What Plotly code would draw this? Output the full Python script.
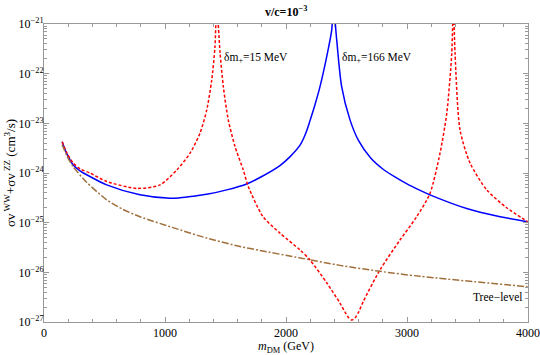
import plotly.graph_objects as go

# ---- data ----
m_blue = [150, 190, 242, 300, 380, 518, 793, 1041, 1124, 1231, 1345, 1510, 1675, 1800, 1950, 2030, 2116, 2160,
          2198, 2240, 2281, 2336, 2378, 2391,
          2419, 2460, 2529, 2600, 2700, 2800, 2900, 3000, 3100, 3200, 3500, 3770, 3997]
log_blue = [-23.37, -23.62, -23.84, -23.96, -24.07, -24.24, -24.44, -24.51, -24.50, -24.47, -24.43, -24.34, -24.22,
            -24.07, -23.85, -23.68, -23.44, -23.22,
            -22.95, -22.62, -22.26, -21.66, -21.12, -20.6,
            -21.32, -22.26, -22.93, -23.35, -23.70, -23.92, -24.08, -24.22, -24.34, -24.45, -24.72, -24.88, -24.98]

m_red = [150, 190, 242, 300, 380, 518, 766, 959, 1097, 1207, 1289, 1345, 1386, 1413, 1427,
         1455, 1482, 1523, 1579, 1647, 1688, 1810, 1950, 2116, 2198, 2336, 2446, 2490, 2520, 2545, 2570, 2600, 2640,
         2777, 2942,
         3080, 3190, 3273, 3329, 3370, 3383,
         3397, 3438, 3521, 3659, 3824, 3997]
log_red = [-23.37, -23.60, -23.80, -23.92, -24.00, -24.17, -24.31, -24.24, -23.94, -23.60, -23.20, -22.73, -22.13,
           -21.46, -20.6,
           -21.58, -22.26, -22.93, -23.47, -23.94, -24.27, -24.88, -25.21, -25.55, -25.75, -26.21, -26.62, -26.81,
           -26.92, -26.96, -26.92, -26.80, -26.58,
           -25.95, -25.35,
           -24.88, -24.41, -23.60, -22.79, -21.59, -20.6,
           -21.59, -23.13, -23.80, -24.34, -24.70, -24.98]

m_tree = [150, 190, 240, 350, 518, 650, 793, 1066, 1345, 1620, 1785, 2116, 2446, 2777, 3107, 3997]
log_tree = [-23.43, -23.66, -23.87, -24.18, -24.54, -24.73, -24.88, -25.10, -25.31, -25.48, -25.56, -25.71, -25.86,
            -25.98, -26.08, -26.29]

y_decades = [-27, -26, -25, -24, -23, -22, -21]
x_ticks = [0, 1000, 2000, 3000, 4000]

FONT = "Liberation Serif"
GRAY = "#999999"

fig = go.Figure()
fig.add_trace(go.Scatter(x=m_blue, y=[10 ** v for v in log_blue], mode="lines",
                         line=dict(color="#0000FF", width=1.5, shape="spline", smoothing=0.8), showlegend=False))
fig.add_trace(go.Scatter(x=m_red, y=[10 ** v for v in log_red], mode="lines",
                         line=dict(color="#FF0000", width=1.5, dash="3px,2px", shape="spline", smoothing=0.7),
                         showlegend=False))
fig.add_trace(go.Scatter(x=m_tree, y=[10 ** v for v in log_tree], mode="lines",
                         line=dict(color="#A0703C", width=1.5, dash="7px,2px,2px,2px", shape="spline", smoothing=0.7),
                         showlegend=False))

minor_y = [k * 10.0 ** e for e in range(-27, -21) for k in range(2, 10)]

fig.update_layout(
    width=540, height=355,
    margin=dict(l=44, r=12, t=24, b=33),
    paper_bgcolor="white", plot_bgcolor="white",
    font=dict(family=FONT, size=12, color="black"),
    title=dict(text="<b>v/c=10<sup>−3</sup></b>", x=0.53, xanchor="center", y=0.966, yanchor="middle",
               font=dict(size=12, family=FONT)),
    xaxis=dict(range=[0, 4000], tickmode="array", tickvals=x_ticks, ticktext=[str(v) for v in x_ticks],
               ticks="inside", ticklen=5, tickcolor=GRAY, showline=True, linecolor=GRAY, linewidth=1,
               mirror="allticks", showgrid=False, zeroline=False, automargin=False,
               minor=dict(dtick=200, tick0=0, ticks="inside", ticklen=3, tickcolor=GRAY, showgrid=False),
               title=dict(text="<i>m</i><sub>DM</sub> (GeV)", standoff=0, font=dict(size=12)),
               tickfont=dict(size=12)),
    yaxis=dict(type="log", range=[-27, -21], tickmode="array", tickvals=[10.0 ** e for e in y_decades],
               ticktext=["10<sup>−%d</sup>" % (-e) for e in y_decades],
               ticks="inside", ticklen=5, tickcolor=GRAY, showline=True, linecolor=GRAY, linewidth=1,
               mirror="allticks", showgrid=False, zeroline=False, automargin=False,
               ticklabelstandoff=-3,
               minor=dict(tickmode="array", tickvals=minor_y, ticks="inside", ticklen=3, tickcolor=GRAY,
                          showgrid=False),
               tickfont=dict(size=12)),
)

fig.add_annotation(x=0, y=0.5, xref="paper", yref="paper", xshift=-34,
                   text="σv<sup> WW</sup>+σv<sup> ZZ</sup> (cm<sup>3</sup>/s)", textangle=-90,
                   showarrow=False, xanchor="center", yanchor="middle", font=dict(size=13))
fig.add_annotation(x=1471, y=-21.68, xref="x", yref="y", text="δm<sub>+</sub>=15 MeV", showarrow=False,
                   xanchor="left", yanchor="middle", font=dict(size=11.5))
fig.add_annotation(x=2446, y=-21.68, xref="x", yref="y", text="δm<sub>+</sub>=166 MeV", showarrow=False,
                   xanchor="left", yanchor="middle", font=dict(size=11.5))
fig.add_annotation(x=3975, y=-26.50, xref="x", yref="y", text="Tree−level", showarrow=False,
                   xanchor="right", yanchor="middle", font=dict(size=11.5))

fig.write_html("out.html", config={"displayModeBar": False},
               post_script="document.body.style.margin='0px';")
